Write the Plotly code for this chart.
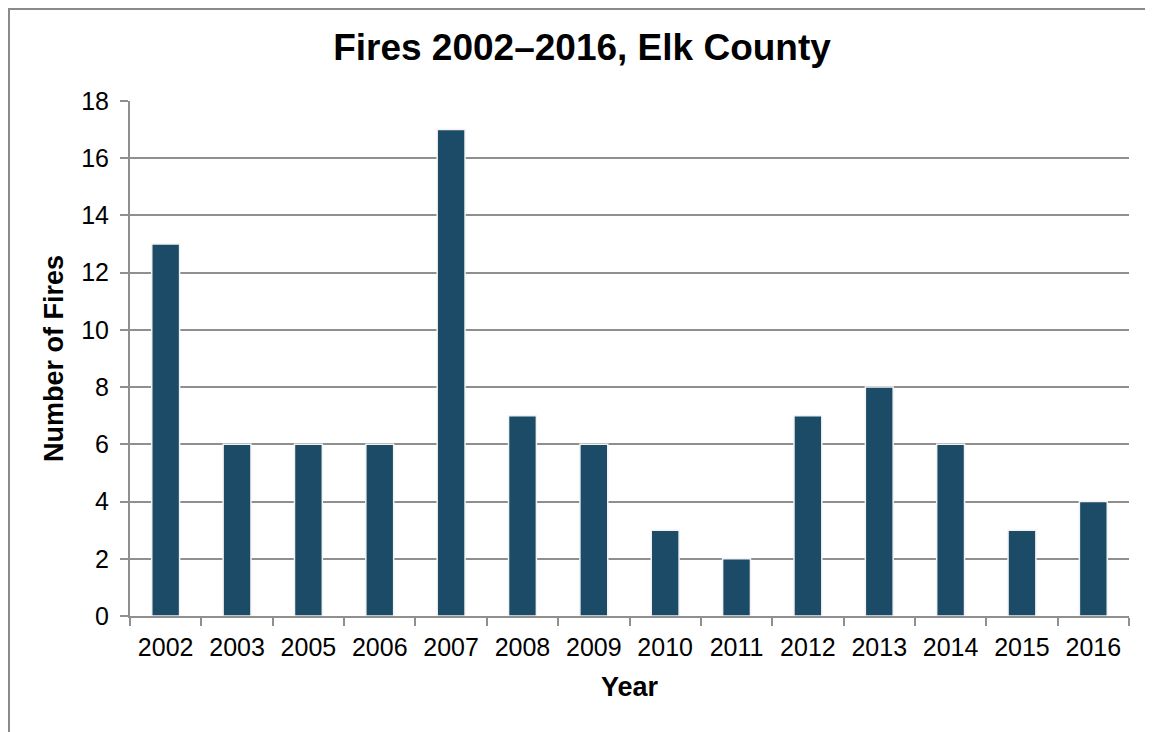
import plotly.graph_objects as go

years = ["2002", "2003", "2005", "2006", "2007", "2008", "2009", "2010",
         "2011", "2012", "2013", "2014", "2015", "2016"]
fires = [13, 6, 6, 6, 17, 7, 6, 3, 2, 7, 8, 6, 3, 4]
y_ticks = [0, 2, 4, 6, 8, 10, 12, 14, 16, 18]

# page is offset by the 8px body margin
OFF = 8
W, H = 1153, 732
L, R, T, B = 130 - OFF, 32, 101 - OFF, 124
pw, ph = W - L - R, H - T - B

fig = go.Figure()
fig.add_trace(go.Bar(
    x=years, y=fires,
    marker=dict(color="#1B4B67", line=dict(color="#f2f2f2", width=1.5)),
    width=0.39,
))

font_family = "Liberation Sans, Arial, sans-serif"

def px2x(px):
    return (px - L) / pw

def py2y(py):
    return (H - B - py) / ph

fig.add_shape(type="rect", xref="paper", yref="paper",
              x0=px2x(1), x1=px2x(1200), y0=py2y(800), y1=py2y(1),
              line=dict(color="#8a8a8a", width=2), fillcolor="rgba(0,0,0,0)",
              layer="below")

fig.update_layout(
    width=W, height=H,
    margin=dict(l=L, r=R, t=T, b=B),
    paper_bgcolor="white", plot_bgcolor="white",
    showlegend=False,
    font=dict(family=font_family, color="black"),
    title=dict(text="<b>Fires 2002–2016, Elk County</b>",
               x=(582 - OFF) / W, xanchor="center",
               y=1 - (47 - OFF) / H, yanchor="middle",
               font=dict(size=37, family=font_family, color="black")),
    xaxis=dict(
        title=dict(text="<b>Year</b>", font=dict(size=27), standoff=17),
        tickfont=dict(size=25),
        showline=True, linecolor="#8f8f8f", linewidth=2,
        ticks="outside", ticklen=8, tickcolor="#8f8f8f", tickwidth=2,
        tickson="boundaries", showgrid=False, ticklabelstandoff=8,
    ),
    yaxis=dict(
        title=dict(text="<b>Number of Fires</b>", font=dict(size=27), standoff=10),
        tickfont=dict(size=25),
        range=[0, 18], tickvals=y_ticks,
        showline=True, linecolor="#8f8f8f", linewidth=2,
        ticks="outside", ticklen=8, tickcolor="#8f8f8f", tickwidth=2,
        showgrid=True, gridcolor="#8f8f8f", gridwidth=2,
        zeroline=False, ticklabelstandoff=6,
    ),
)

fig.write_html("out.html")
